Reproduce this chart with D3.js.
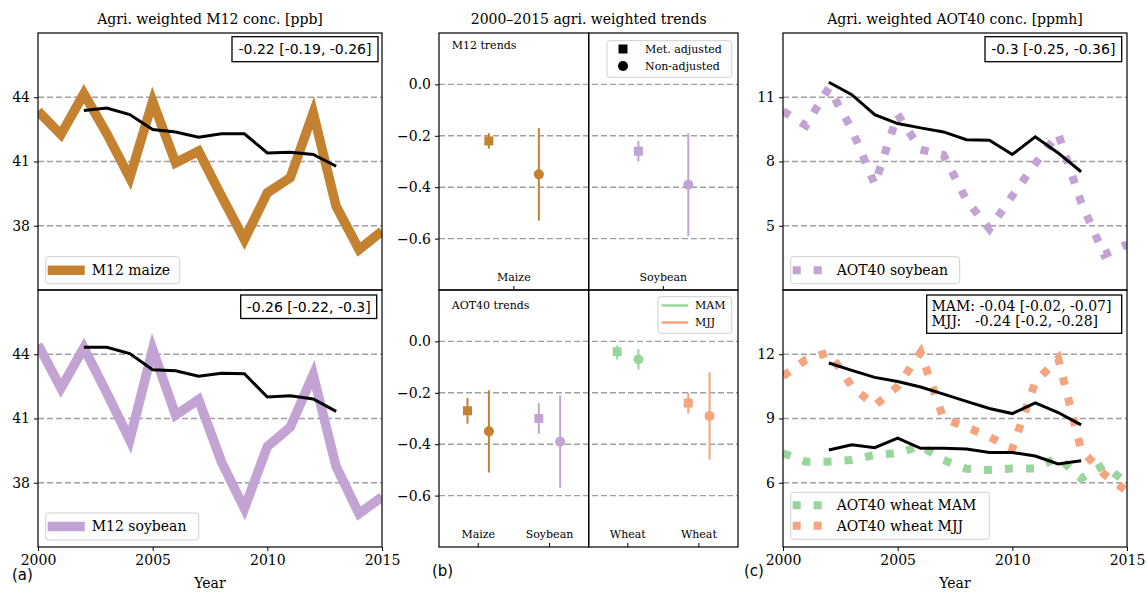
<!doctype html>
<html>
<head>
<meta charset="utf-8">
<title>agri weighted ozone trends</title>
<style>
  body { margin: 0; background: #fff; }
  svg text { font-family: 'DejaVu Serif', serif; fill: #000; }
  svg text.sans { font-family: 'DejaVu Sans', sans-serif; }
</style>
</head>
<body>
<svg id="chart" width="1147" height="592"></svg>
<script src="https://d3js.org/d3.v7.min.js"></script>
<script>
// ---- data ----
const years = [2000, 2001, 2002, 2003, 2004, 2005, 2006, 2007, 2008, 2009, 2010, 2011, 2012, 2013, 2014, 2015];
const adjYears = [2002, 2003, 2004, 2005, 2006, 2007, 2008, 2009, 2010, 2011, 2012, 2013];

const m12Maize = [43.35, 42.26, 44.17, 42.3, 40.24, 43.81, 40.94, 41.48, 39.38, 37.36, 39.54, 40.24, 43.27, 38.91, 36.89, 37.75];
const m12MaizeAdj = [43.38, 43.5, 43.19, 42.49, 42.38, 42.13, 42.29, 42.29, 41.4, 41.43, 41.33, 40.78];
const m12Soy = [44.45, 42.42, 44.3, 42.2, 40.0, 44.22, 41.16, 41.88, 38.98, 36.8, 39.69, 40.6, 43.05, 38.75, 36.56, 37.34];
const m12SoyAdj = [44.33, 44.33, 44.03, 43.28, 43.23, 42.97, 43.11, 43.09, 42.0, 42.06, 41.91, 41.33];

const aotSoy = [10.35, 9.68, 11.44, 9.5, 6.93, 10.2, 8.56, 8.3, 6.2, 4.85, 6.4, 7.9, 9.3, 6.1, 3.65, 4.13];
const aotSoyAdj = [11.7, 11.12, 10.19, 9.77, 9.57, 9.38, 9.02, 8.99, 8.33, 9.15, 8.4, 7.52];
const aotWheatMAM = [7.38, 6.98, 6.98, 7.06, 7.3, 7.38, 7.72, 7.06, 6.65, 6.6, 6.67, 6.67, 7.18, 6.2, 6.83, 5.97];
const aotWheatMAMAdj = [7.53, 7.77, 7.64, 8.08, 7.61, 7.61, 7.58, 7.41, 7.41, 7.25, 6.88, 7.03];
const aotWheatMJJ = [10.97, 11.75, 12.09, 10.5, 9.6, 10.5, 12.09, 9.0, 8.6, 8.14, 7.6, 10.7, 11.8, 7.53, 6.4, 5.6];
const aotWheatMJJAdj = [11.59, 11.25, 10.92, 10.73, 10.47, 10.14, 9.8, 9.47, 9.23, 9.73, 9.28, 8.7];

// trends panel (b)
const m12Crops = ['Maize', 'Soybean'];
const m12Sub = [0, 1];
const m12Pos = [0, 0];
const m12Adj = [-0.22, -0.26];
const m12AdjCI = [[-0.19, -0.25], [-0.22, -0.30]];
const m12Raw = [-0.35, -0.39];
const m12RawCI = [[-0.17, -0.53], [-0.19, -0.59]];

const aotCrops = ['Maize', 'Soybean', 'Wheat', 'Wheat'];
const aotSub = [0, 0, 1, 1];
const aotPos = [0, 1, 0, 1];
const aotAdj = [-0.27, -0.30, -0.04, -0.24];
const aotAdjCI = [[-0.22, -0.32], [-0.24, -0.36], [-0.015, -0.07], [-0.20, -0.28]];
const aotRaw = [-0.35, -0.39, -0.07, -0.29];
const aotRawCI = [[-0.19, -0.51], [-0.21, -0.57], [-0.03, -0.11], [-0.12, -0.46]];

const yearTicks = [2000, 2005, 2010, 2015];
const m12Ticks = [38, 41, 44];
const aotSoyTicks = [5, 8, 11];
const aotWheatTicks = [6, 9, 12];
const trendTicks = [0, -0.2, -0.4, -0.6];

const cMaize = '#c4812f', cSoy = '#c3a3d3', cMAM = '#9ad69b', cMJJ = '#f4a47f';
const aotColors = [cMaize, cSoy, cMAM, cMJJ];
const dotted = '8 13';

// ---- layout ----
const svg = d3.select('#chart');
const L = [38, 382], M = [439, 588.7, 738], R = [783, 1127];
const rowTop = [290, 33], rowBot = [547, 290];

const xL = d3.scaleLinear([2000, 2015], L);
const xR = d3.scaleLinear([2000, 2015], R);
const yM12Top = d3.scaleLinear([35, 47], rowTop);
const yM12Bot = d3.scaleLinear([35, 47], rowBot);
const yAotTop = d3.scaleLinear([2, 14], rowTop);
const yAotBot = d3.scaleLinear([3, 15], rowBot);
const yTrTop = d3.scaleLinear([-0.8, 0.2], rowTop);
const yTrBot = d3.scaleLinear([-0.8, 0.2], rowBot);

let clipN = 0;
function panel(xr, yr) {
  const id = 'clip' + (clipN++);
  svg.append('clipPath').attr('id', id).append('rect')
    .attr('x', xr[0]).attr('y', yr[1]).attr('width', xr[1] - xr[0]).attr('height', yr[0] - yr[1]);
  return svg.append('g').attr('clip-path', `url(#${id})`);
}

function grid(g, y, ticks, xr) {
  g.selectAll(null).data(ticks).join('line')
    .attr('x1', xr[0]).attr('x2', xr[1]).attr('y1', d => y(d)).attr('y2', d => y(d))
    .attr('stroke', '#a0a0a0').attr('stroke-width', 1.4).attr('stroke-dasharray', '6 3');
}

function frame(xr, yr) {
  svg.append('rect').attr('x', xr[0]).attr('y', yr[1]).attr('width', xr[1] - xr[0]).attr('height', yr[0] - yr[1])
    .attr('fill', 'none').attr('stroke', '#000').attr('stroke-width', 1.2);
}

function yAxis(y, ticks, x, fmt) {
  const ax = d3.axisLeft(y).tickValues(ticks).tickSize(4).tickPadding(4);
  if (fmt) ax.tickFormat(fmt);
  const g = svg.append('g').attr('transform', `translate(${x},0)`).call(ax);
  g.select('.domain').remove();
  g.selectAll('text').attr('font-family', 'DejaVu Serif').attr('font-size', 14);
}

function xAxis(x, y) {
  const g = svg.append('g').attr('transform', `translate(0,${y})`)
    .call(d3.axisBottom(x).tickValues(yearTicks).tickFormat(d3.format('d')).tickSize(4).tickPadding(4));
  g.select('.domain').remove();
  g.selectAll('text').attr('font-family', 'DejaVu Serif').attr('font-size', 14);
}

function series(g, x, y, yrs, vals, color, width, dash) {
  g.append('path').datum(vals)
    .attr('d', d3.line().x((d, i) => x(yrs[i])).y(d => y(d)))
    .attr('fill', 'none').attr('stroke', color).attr('stroke-width', width)
    .attr('stroke-dasharray', dash || null).attr('stroke-linejoin', 'miter');
}

function legend(x, y, w, h, items, fs) {
  const g = svg.append('g');
  g.append('rect').attr('x', x).attr('y', y).attr('width', w).attr('height', h).attr('rx', 3)
    .attr('fill', 'rgba(255,255,255,0.8)').attr('stroke', '#d0d0d0').attr('stroke-width', 1);
  items.forEach(it => {
    const cy = y + it.dy;
    g.append('line').attr('x1', x + 2).attr('x2', x + 39).attr('y1', cy).attr('y2', cy)
      .attr('stroke', it.color).attr('stroke-width', it.width).attr('stroke-dasharray', it.dash || null);
    g.append('text').attr('x', x + 46).attr('y', cy).attr('dy', '0.35em').attr('font-size', fs).text(it.label);
  });
}

function note(x, y, w, h, txt) {
  svg.append('rect').attr('x', x).attr('y', y).attr('width', w).attr('height', h)
    .attr('fill', '#fff').attr('stroke', '#000').attr('stroke-width', 1.3);
  svg.append('text').attr('class', 'sans').attr('x', x + w / 2).attr('y', y + h / 2).attr('dy', '0.36em')
    .attr('text-anchor', 'middle').attr('font-size', 14).text(txt);
}

// ---- (a) M12 ----
let g = panel(L, rowTop);
grid(g, yM12Top, m12Ticks, L);
series(g, xL, yM12Top, years, m12Maize, cMaize, 9.5);
series(g, xL, yM12Top, adjYears, m12MaizeAdj, '#000', 3);
g = panel(L, rowBot);
grid(g, yM12Bot, m12Ticks, L);
series(g, xL, yM12Bot, years, m12Soy, cSoy, 9.5);
series(g, xL, yM12Bot, adjYears, m12SoyAdj, '#000', 3);
frame(L, rowTop); frame(L, rowBot);
yAxis(yM12Top, m12Ticks, L[0]); yAxis(yM12Bot, m12Ticks, L[0]);
xAxis(xL, rowBot[0]);
legend(45.7, 256.7, 134, 27, [{label: 'M12 maize', color: cMaize, width: 9.5, dy: 13.5}], 14);
legend(45.7, 513, 153, 27, [{label: 'M12 soybean', color: cSoy, width: 9.5, dy: 13.5}], 14);
note(232, 36.7, 146, 25, '-0.22 [-0.19, -0.26]');
note(240.7, 295, 136, 23.5, '-0.26 [-0.22, -0.3]');

// ---- (c) AOT40 ----
g = panel(R, rowTop);
grid(g, yAotTop, aotSoyTicks, R);
series(g, xR, yAotTop, years, aotSoy, cSoy, 8, dotted);
series(g, xR, yAotTop, adjYears, aotSoyAdj, '#000', 3);
g = panel(R, rowBot);
grid(g, yAotBot, aotWheatTicks, R);
series(g, xR, yAotBot, years, aotWheatMAM, cMAM, 8, dotted);
series(g, xR, yAotBot, years, aotWheatMJJ, cMJJ, 8, dotted);
series(g, xR, yAotBot, adjYears, aotWheatMAMAdj, '#000', 3);
series(g, xR, yAotBot, adjYears, aotWheatMJJAdj, '#000', 3);
frame(R, rowTop); frame(R, rowBot);
yAxis(yAotTop, aotSoyTicks, R[0]); yAxis(yAotBot, aotWheatTicks, R[0]);
xAxis(xR, rowBot[0]);
legend(790.7, 256.7, 169, 27, [{label: 'AOT40 soybean', color: cSoy, width: 8, dash: dotted, dy: 13.5}], 14);
legend(790.7, 492.3, 198.6, 47, [
  {label: 'AOT40 wheat MAM', color: cMAM, width: 8, dash: dotted, dy: 13},
  {label: 'AOT40 wheat MJJ', color: cMJJ, width: 8, dash: dotted, dy: 33.5}], 14);
note(985, 36.7, 136.7, 25, '-0.3 [-0.25, -0.36]');
svg.append('rect').attr('x', 926.7).attr('y', 295).attr('width', 195).attr('height', 38.3)
  .attr('fill', '#fff').attr('stroke', '#000').attr('stroke-width', 1.3);
const mamLine = svg.append('text').attr('x', 931.5).attr('y', 310.5).attr('font-size', 14).text('MAM: -0.04 [-0.02, -0.07]');
const probe = svg.append('text').attr('font-size', 14).text('MAM: ');
const valX = 931.5 + probe.node().getComputedTextLength();
probe.remove();
svg.append('text').attr('x', 931.5).attr('y', 326).attr('font-size', 14).text('MJJ:');
svg.append('text').attr('x', valX).attr('y', 326).attr('font-size', 14).text('-0.24 [-0.2, -0.28]');

// ---- (b) trends ----
const subTop = [d3.scaleLinear([-0.5, 0.5], [M[0], M[1]]), d3.scaleLinear([-0.5, 0.5], [M[1], M[2]])];
const subBot = [d3.scaleLinear([-0.55, 1.55], [M[0], M[1]]), d3.scaleLinear([-0.55, 1.55], [M[1], M[2]])];
const offTop = 0.167, offBot = 0.15;
const tickFmt = d => d === 0 ? '0.0' : d3.format('.1f')(d).replace('-', '\u2212');

function trendPanel(y, yr, subs, off, crops, sub, pos, colors, adj, adjCI, raw, rawCI) {
  const g = svg.append('g');
  grid(g, y, trendTicks, [M[0], M[2]]);
  crops.forEach((c, i) => {
    const xs = subs[sub[i]];
    const xa = xs(pos[i] - off), xr = xs(pos[i] + off);
    g.append('line').attr('x1', xa).attr('x2', xa).attr('y1', y(adjCI[i][0])).attr('y2', y(adjCI[i][1]))
      .attr('stroke', colors[i]).attr('stroke-width', 2);
    g.append('rect').attr('x', xa - 4.5).attr('y', y(adj[i]) - 4.5).attr('width', 9).attr('height', 9).attr('fill', colors[i]);
    g.append('line').attr('x1', xr).attr('x2', xr).attr('y1', y(rawCI[i][0])).attr('y2', y(rawCI[i][1]))
      .attr('stroke', colors[i]).attr('stroke-width', 2);
    g.append('circle').attr('cx', xr).attr('cy', y(raw[i])).attr('r', 5).attr('fill', colors[i]);
    // inward tick + category label
    g.append('line').attr('x1', xs(pos[i])).attr('x2', xs(pos[i])).attr('y1', yr[0]).attr('y2', yr[0] - 4)
      .attr('stroke', '#000').attr('stroke-width', 1);
    g.append('text').attr('x', xs(pos[i])).attr('y', yr[0] - 9).attr('text-anchor', 'middle')
      .attr('font-size', 11).text(c);
  });
  frame([M[0], M[1]], yr); frame([M[1], M[2]], yr);
  yAxis(y, trendTicks, M[0], tickFmt);
}

trendPanel(yTrTop, rowTop, subTop, offTop, m12Crops, m12Sub, m12Pos, [cMaize, cSoy], m12Adj, m12AdjCI, m12Raw, m12RawCI);
trendPanel(yTrBot, rowBot, subBot, offBot, aotCrops, aotSub, aotPos, aotColors, aotAdj, aotAdjCI, aotRaw, aotRawCI);

svg.append('text').attr('x', 451.7).attr('y', 49).attr('font-size', 11).text('M12 trends');
svg.append('text').attr('x', 451.7).attr('y', 309).attr('font-size', 11).text('AOT40 trends');

// legend: marker types
let lg = svg.append('g');
lg.append('rect').attr('x', 607).attr('y', 40.7).attr('width', 124.7).attr('height', 36.6).attr('rx', 3)
  .attr('fill', 'rgba(255,255,255,0.8)').attr('stroke', '#d0d0d0');
lg.append('rect').attr('x', 618.5).attr('y', 44.5).attr('width', 9).attr('height', 9).attr('fill', '#000');
lg.append('circle').attr('cx', 623).attr('cy', 66).attr('r', 5).attr('fill', '#000');
lg.append('text').attr('x', 645).attr('y', 49).attr('dy', '0.35em').attr('font-size', 11).text('Met. adjusted');
lg.append('text').attr('x', 645).attr('y', 66).attr('dy', '0.35em').attr('font-size', 11).text('Non-adjusted');
// legend: seasons
lg = svg.append('g');
lg.append('rect').attr('x', 658).attr('y', 296.7).attr('width', 73.7).attr('height', 36.6).attr('rx', 3)
  .attr('fill', 'rgba(255,255,255,0.8)').attr('stroke', '#d0d0d0');
[['MAM', cMAM, 305.5], ['MJJ', cMJJ, 322.5]].forEach(d => {
  lg.append('line').attr('x1', 661.7).attr('x2', 688).attr('y1', d[2]).attr('y2', d[2]).attr('stroke', d[1]).attr('stroke-width', 2.5);
  lg.append('text').attr('x', 695).attr('y', d[2]).attr('dy', '0.35em').attr('font-size', 11).text(d[0]);
});

// ---- titles and labels ----
[['Agri. weighted M12 conc. [ppb]', (L[0] + L[1]) / 2], ['2000\u20132015 agri. weighted trends', M[1]],
 ['Agri. weighted AOT40 conc. [ppmh]', (R[0] + R[1]) / 2]].forEach(t => {
  svg.append('text').attr('x', t[1]).attr('y', 24).attr('text-anchor', 'middle').attr('font-size', 14).text(t[0]);
});
svg.append('text').attr('x', (L[0] + L[1]) / 2).attr('y', 588).attr('text-anchor', 'middle').attr('font-size', 14).text('Year');
svg.append('text').attr('x', (R[0] + R[1]) / 2).attr('y', 588).attr('text-anchor', 'middle').attr('font-size', 14).text('Year');
svg.append('text').attr('class', 'sans').attr('x', 12).attr('y', 580).attr('font-size', 15).text('(a)');
svg.append('text').attr('class', 'sans').attr('x', 432).attr('y', 576).attr('font-size', 15).text('(b)');
svg.append('text').attr('class', 'sans').attr('x', 744).attr('y', 576).attr('font-size', 15).text('(c)');
</script>
</body>
</html>
